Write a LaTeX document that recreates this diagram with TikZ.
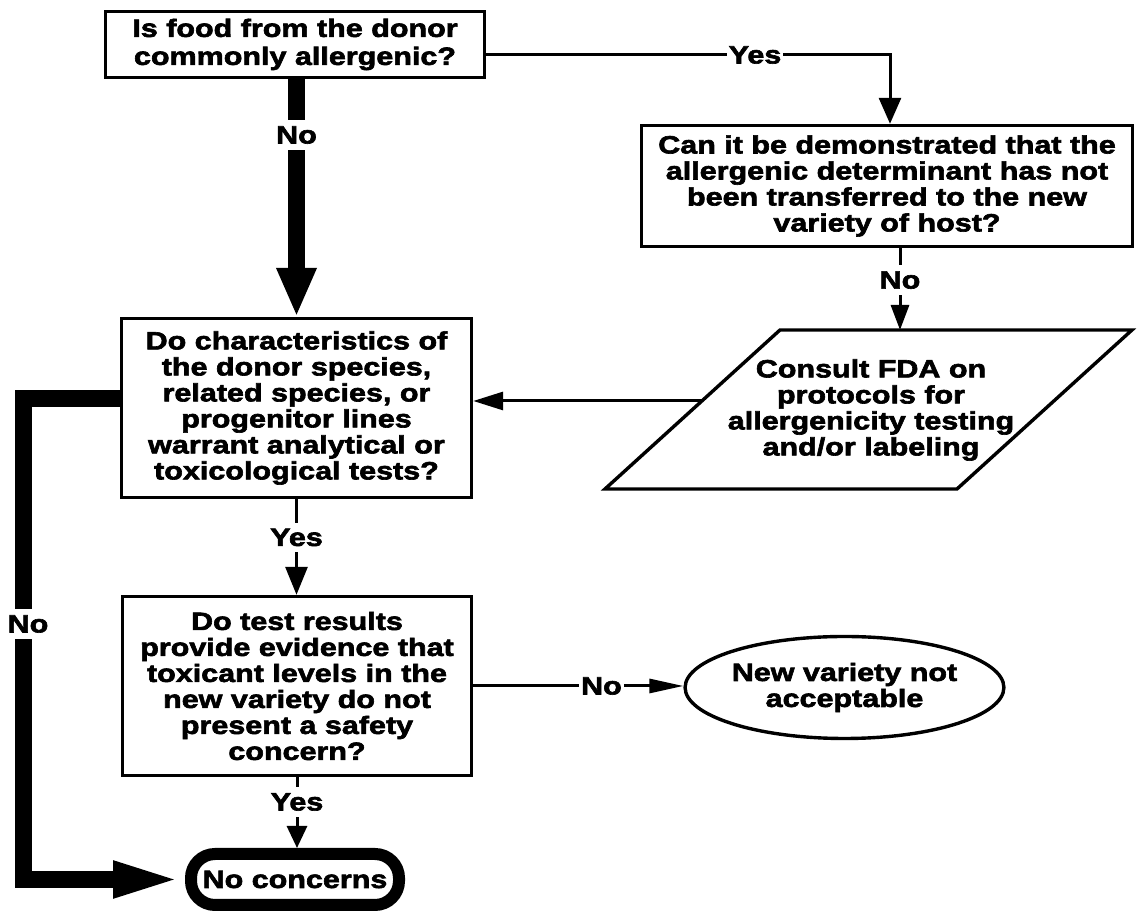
\documentclass[tikz,border=0pt]{standalone}
\usepackage{fontspec}
\newfontfamily\df{Liberation Sans Bold}[FakeStretch=1.22,FakeBold=2.5]
\usetikzlibrary{arrows.meta,calc,shapes.geometric}
\begin{document}
\begin{tikzpicture}[x=0.5pt,y=-0.5pt,
  txt/.style={font=\df\fontsize{12.5}{13}\selectfont, align=center},
  box/.style={draw, line width=1.7pt, txt, inner sep=0pt},
  lbl/.style={txt, fill=white, inner xsep=1pt, inner ysep=3pt},
  thinline/.style={line width=1.5pt},
  thickline/.style={line width=8.5pt}
]
\useasboundingbox[fill=white] (0,0) rectangle (1137,913);

% nodes
\node[box, minimum width=189.4pt, minimum height=33pt, font=\df\fontsize{12.5}{14}\selectfont] (q1) at (295,44.5)
  {Is food from the donor\\commonly allergenic?};
\node[box, minimum width=175pt, minimum height=89.5pt] (q2) at (296.5,408)
  {Do characteristics of\\the donor species,\\related species, or\\progenitor lines\\warrant analytical or\\toxicological tests?};
\node[box, minimum width=245.5pt, minimum height=60.5pt] (q3) at (887,186)
  {Can it be demonstrated that the\\allergenic determinant has not\\been transferred to the new\\variety of host?};
\node[box, minimum width=174.5pt, minimum height=89.5pt] (q4) at (297,686)
  {Do test results\\provide evidence that\\toxicant levels in the\\new variety do not\\present a safety\\concern?};
\node[box, ellipse, minimum width=145pt, minimum height=51pt] (rej) at (844.5,687.5)
  {New variety not\\acceptable};
\node[box, line width=6pt, rounded corners=12pt, minimum width=104pt, minimum height=25.5pt] (ok) at (295,879.5)
  {No concerns};

% parallelogram
\coordinate (pa) at (780,330);
\coordinate (pb) at (1132,330);
\coordinate (pc) at (957,489);
\coordinate (pd) at (605,489);
\draw[line width=1.7pt, line join=miter] (pa) -- (pb) -- (pc) -- (pd) -- cycle;
\node[txt] (fda) at (871,410) {Consult FDA on\\protocols for\\allergenicity testing\\and/or labeling};
\coordinate (ptop) at (900,330);
\coordinate (pleft) at (702,401);

% connectors
\draw[thickline, -{Triangle[length=24.5pt,width=18.5pt]}] (q1.south -| q2.north) -- node[lbl, pos=0.235]{No} (q2.north);

\draw[thinline, -{Triangle[length=13pt,width=11pt]}] ($(q1.east)+(0,10.5)$) -| ([xshift=1.5pt]q3.north);
\node[lbl] (yes1) at (755,55) {Yes};

\draw[thinline, -{Triangle[length=12.5pt,width=9pt]}] (q3.south -| ptop) -- node[lbl,pos=0.39]{No} (ptop);

\draw[thinline, -{Triangle[length=15pt,width=9pt]}] (pleft) -- (pleft -| q2.east);

\draw[thinline, -{Triangle[length=14pt,width=11pt]}] (q2.south) -- node[lbl,pos=0.4]{Yes} (q2.south |- q4.north);

\draw[thinline, -{Triangle[length=11pt,width=10pt]}] (q4.south) -- node[lbl,pos=0.35]{Yes} (q4.south |- ok.north);

\draw[thinline, -{Triangle[length=17pt,width=7pt]}] (q4.east) -- node[lbl,pos=0.61]{No} (q4.east -| rej.west);

\draw[thickline, line join=miter, -{Triangle[length=36pt,width=16pt]}] ($(q2.west)+(0,-9)$) -- (23,399) -- (23,879.5) -- (ok.west);
\node[lbl] (no4) at (28,624) {No};
\end{tikzpicture}
\end{document}
